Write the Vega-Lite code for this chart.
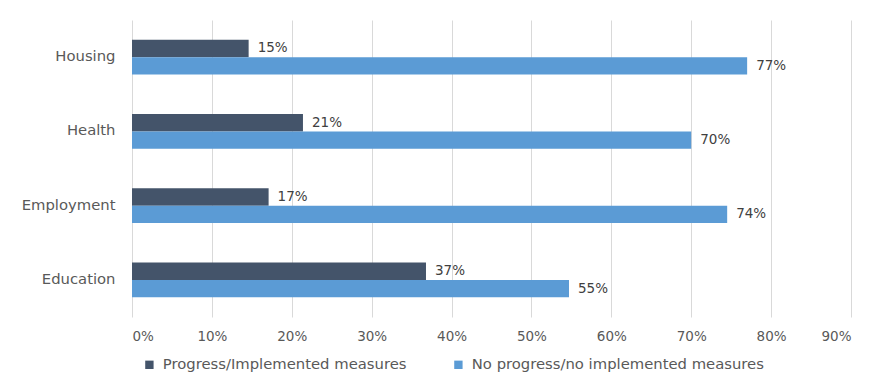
{
  "$schema": "https://vega.github.io/schema/vega-lite/v6.json",
  "width": 719,
  "height": 297,
  "autosize": {"type": "none"},
  "padding": {"left": 132, "top": 20, "right": 31, "bottom": 65},
  "background": "white",
  "config": {
    "view": {"stroke": null},
    "font": "DejaVu Sans",
    "axis": {"labelFont": "DejaVu Sans", "labelColor": "#595959", "labelFontSize": 13.5, "labelLimit": 0}
  },
  "data": {
    "values": [
      {"area": "Housing", "series": "Progress/Implemented measures", "value": 0.146, "label": "15%"},
      {"area": "Housing", "series": "No progress/no implemented measures", "value": 0.77, "label": "77%"},
      {"area": "Health", "series": "Progress/Implemented measures", "value": 0.214, "label": "21%"},
      {"area": "Health", "series": "No progress/no implemented measures", "value": 0.70, "label": "70%"},
      {"area": "Employment", "series": "Progress/Implemented measures", "value": 0.171, "label": "17%"},
      {"area": "Employment", "series": "No progress/no implemented measures", "value": 0.745, "label": "74%"},
      {"area": "Education", "series": "Progress/Implemented measures", "value": 0.368, "label": "37%"},
      {"area": "Education", "series": "No progress/no implemented measures", "value": 0.547, "label": "55%"}
    ]
  },
  "encoding": {
    "y": {
      "field": "area", "type": "nominal",
      "sort": ["Housing", "Health", "Employment", "Education"],
      "scale": {"paddingInner": 0.53, "paddingOuter": 0.265},
      "axis": {"title": null, "ticks": false, "domain": false, "labelPadding": 17, "labelFontSize": 14.8}
    },
    "yOffset": {
      "field": "series", "type": "nominal",
      "sort": ["Progress/Implemented measures", "No progress/no implemented measures"]
    },
    "x": {
      "field": "value", "type": "quantitative",
      "scale": {"domain": [0, 0.9], "nice": false},
      "axis": {
        "title": null, "format": ".0%", "values": [0, 0.1, 0.2, 0.3, 0.4, 0.5, 0.6, 0.7, 0.8, 0.9],
        "grid": true, "gridColor": "#d9d9d9", "domain": false, "ticks": false, "labelPadding": 12
      }
    }
  },
  "layer": [
    {
      "mark": {"type": "bar"},
      "encoding": {
        "color": {
          "field": "series", "type": "nominal",
          "sort": ["Progress/Implemented measures", "No progress/no implemented measures"],
          "scale": {"range": ["#44546A", "#5B9BD5"]},
          "legend": {
            "title": null, "orient": "none", "direction": "horizontal",
            "legendX": 10, "legendY": 337,
            "symbolType": "square", "symbolSize": 70, "symbolStrokeWidth": 0,
            "labelFontSize": 14.8, "labelColor": "#595959", "labelFont": "DejaVu Sans",
            "labelLimit": 0, "columnPadding": 44, "labelOffset": 6
          }
        }
      }
    },
    {
      "mark": {"type": "text", "align": "left", "baseline": "middle", "dx": 9, "fontSize": 13.5, "color": "#404040", "font": "DejaVu Sans"},
      "encoding": {"text": {"field": "label"}}
    }
  ]
}
